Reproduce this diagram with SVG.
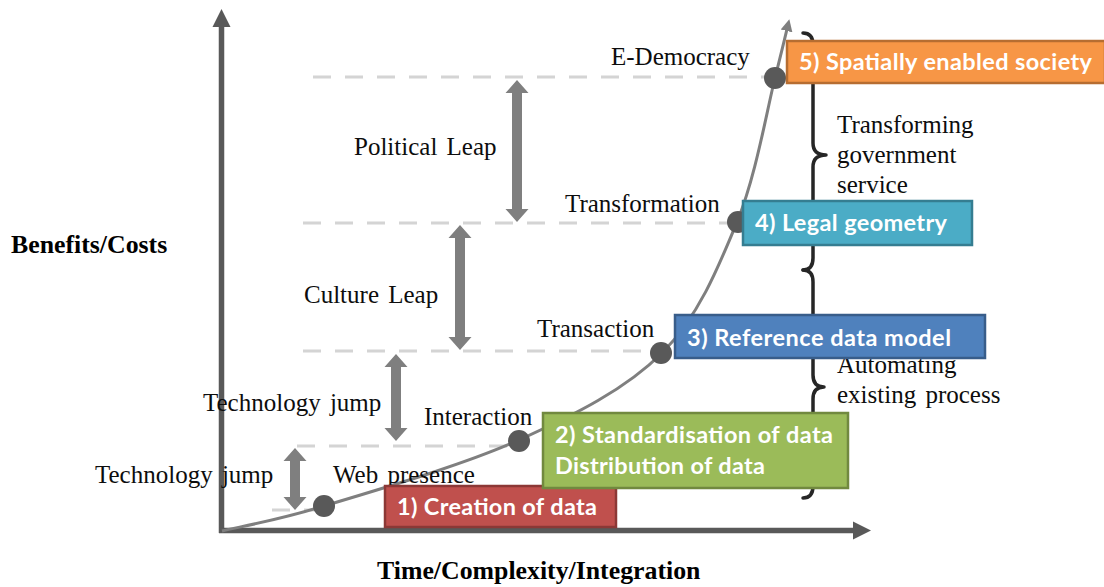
<svg xmlns="http://www.w3.org/2000/svg" width="1104" height="587" viewBox="0 0 1104 587">
<style>
.lbl{font-family:"Liberation Serif","Times New Roman",serif;font-size:25px;fill:#0d0d0d;word-spacing:3px}
.ttl{font-family:"Liberation Serif","Times New Roman",serif;font-size:25.8px;font-weight:bold;fill:#000}
.bx{font-family:Lato,"Open Sans",sans-serif;font-size:23.5px;font-weight:bold;fill:#fff}
.dash{stroke:#d4d4d4;stroke-width:3;stroke-dasharray:18 14;fill:none}
.dot{fill:#595959}
.dbl{fill:#7f7f7f}
.brace{fill:none;stroke:#262626;stroke-width:3.5;stroke-linecap:round;stroke-linejoin:round}
</style>
<defs>
<marker id="ah" markerUnits="userSpaceOnUse" markerWidth="14" markerHeight="14" refX="2" refY="7" orient="auto">
<path d="M0,1 L12,7 L0,13 z" fill="#7f7f7f"/>
</marker>
</defs>
<rect width="1104" height="587" fill="#fff"/>

<g id="axes">
<line x1="221.5" y1="533" x2="221.5" y2="25" stroke="#595959" stroke-width="5.5"/>
<polygon points="221.5,9 230.5,27 212.5,27" fill="#595959"/>
<line x1="219" y1="530.5" x2="855" y2="530.5" stroke="#595959" stroke-width="5.5"/>
<polygon points="871,530.5 853,521.5 853,539.5" fill="#595959"/>
<text class="ttl" x="11" y="253">Benefits/Costs</text>
<text class="ttl" x="377" y="579">Time/Complexity/Integration</text>
</g>

<g id="guides">
<line class="dash" x1="313" y1="77" x2="765" y2="77"/>
<line class="dash" x1="303" y1="223" x2="728" y2="223"/>
<line class="dash" x1="303" y1="351" x2="652" y2="351"/>
<line class="dash" x1="297" y1="446" x2="510" y2="446"/>
<line class="dash" x1="272" y1="510" x2="314" y2="510"/>
</g>

<g id="connectors">
<path d="M222,531 C239,526.8 274.5,521.2 324,506 C373.5,490.8 462.7,465.5 519,440 C575.3,414.5 625.7,389.3 662,353 C698.3,316.7 718.2,267.8 737,222 C755.8,176.2 766.5,112 775,78 C783.5,44 785.8,34 787,29" fill="none" stroke="#7f7f7f" stroke-width="3" marker-end="url(#ah)"/>
<polygon class="dbl" points="517,80 528.5,93 522,93 522,209 528.5,209 517,222 505.5,209 512,209 512,93 505.5,93"/>
<polygon class="dbl" points="460,225 471.5,238 465,238 465,337 471.5,337 460,350 448.5,337 455,337 455,238 448.5,238"/>
<polygon class="dbl" points="396,354 407.5,367 401,367 401,428 407.5,428 396,441 384.5,428 391,428 391,367 384.5,367"/>
<polygon class="dbl" points="295,448 306.5,461 300,461 300,497 306.5,497 295,510 283.5,497 290,497 290,461 283.5,461"/>
<path class="brace" d="M803,33 Q813,33 813,45 L813,143 Q813,155 826,155 Q813,155 813,167 L813,258 Q813,270 803,270"/>
<path class="brace" d="M803,270 Q813,270 813,282 L813,375 Q813,387 824,387 Q813,387 813,399 L813,486 Q813,498 803,498"/>
</g>

<g id="milestones">
<circle class="dot" cx="324" cy="506" r="11"/>
<circle class="dot" cx="519" cy="441" r="11"/>
<circle class="dot" cx="661" cy="353" r="11"/>
<circle class="dot" cx="738" cy="222" r="11"/>
<circle class="dot" cx="775" cy="78" r="11"/>
</g>

<g id="labels">
<text class="lbl" x="611" y="65">E-Democracy</text>
<text class="lbl" x="354" y="155">Political Leap</text>
<text class="lbl" x="565" y="212">Transformation</text>
<text class="lbl" x="304" y="303">Culture Leap</text>
<text class="lbl" x="537" y="337">Transaction</text>
<text class="lbl" x="203" y="411">Technology jump</text>
<text class="lbl" x="424" y="425">Interaction</text>
<text class="lbl" x="95" y="483">Technology jump</text>
<text class="lbl" x="333" y="483">Web presence</text>
<text class="lbl" x="837" y="133">Transforming</text>
<text class="lbl" x="837" y="163">government</text>
<text class="lbl" x="837" y="193">service</text>
<text class="lbl" x="837" y="373">Automating</text>
<text class="lbl" x="837" y="403">existing process</text>
</g>

<g id="stage1">
<rect x="385" y="486" width="231" height="41" fill="#c0504d" stroke="#8c3836" stroke-width="2.5"/>
<text class="bx" x="397" y="515" textLength="200">1) Creation of data</text>
</g>
<g id="stage2">
<rect x="543" y="413" width="305" height="75" fill="#9bbb59" stroke="#71893f" stroke-width="2.5"/>
<text class="bx" x="555" y="443" textLength="278">2) Standardisation of data</text>
<text class="bx" x="555" y="474" textLength="210">Distribution of data</text>
</g>
<g id="stage3">
<rect x="675" y="315" width="310" height="43" fill="#4f81bd" stroke="#385d8a" stroke-width="2.5"/>
<text class="bx" x="687" y="346" textLength="264">3) Reference data model</text>
</g>
<g id="stage4">
<rect x="743" y="201" width="229" height="44" fill="#4bacc6" stroke="#357d91" stroke-width="2.5"/>
<text class="bx" x="755" y="231" textLength="192">4) Legal geometry</text>
</g>
<g id="stage5">
<rect x="787" y="41" width="318" height="42" fill="#f79646" stroke="#b66d31" stroke-width="2.5"/>
<text class="bx" x="799" y="70" textLength="293">5) Spatially enabled society</text>
</g>
</svg>
